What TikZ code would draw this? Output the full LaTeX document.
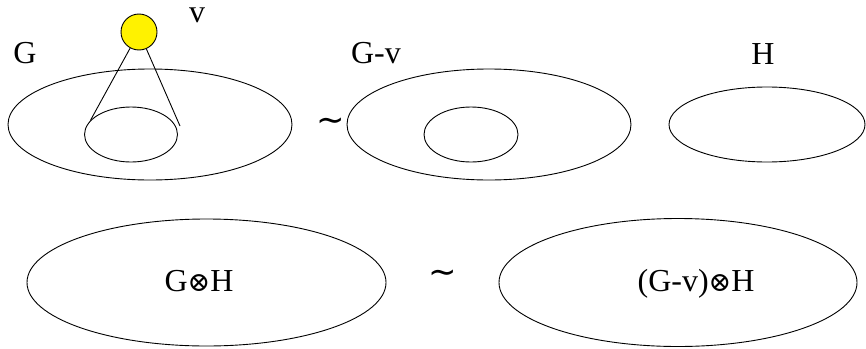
\documentclass[tikz,border=0pt]{standalone}
\usepackage{fontspec}
\setmainfont{Liberation Serif}
\newfontfamily\tnr{Liberation Serif}
\newfontfamily\dvs{DejaVu Sans}
\newfontfamily\dvserif{DejaVu Serif}
\usetikzlibrary{shapes.geometric}
\newcommand{\otim}{{\dvserif\fontsize{27}{30}\selectfont ⊗}}
\tikzset{
  set/.style={draw, ellipse, line width=0.9pt, inner sep=0pt},
  lbl/.style={anchor=base, inner sep=0pt, font=\tnr\fontsize{32}{36}\selectfont},
  tld/.style={inner sep=0pt, font=\dvs\fontsize{34}{38}\selectfont},
  vert/.style={draw, circle, fill=yellow, line width=0.9pt, minimum size=36pt, inner sep=0pt},
  edge/.style={line width=0.9pt}
}
\begin{document}
\begin{tikzpicture}[x=1pt, y=-1pt]
\useasboundingbox (0,0) rectangle (866,348);
% top row
\node[set, minimum width=284pt, minimum height=111pt] (G) at (150,124.5) {};
\node[set, minimum width=93pt, minimum height=55pt] (Gin) at (131,134.5) {};
\node[vert] (v) at (139,32) {};
\coordinate (cone) at (180,126);
\draw[edge] (v) -- (Gin.161);
\draw[edge] (v) -- (cone);
\node[lbl] (Glbl) at (25,63) {G};
\node[lbl, text height=15pt] (vlbl) at (197,22) {v};
\node[tld] (t1) at (331,125) {∼};
\node[set, minimum width=284pt, minimum height=111pt] (Gv) at (489,124.5) {};
\node[set, minimum width=94pt, minimum height=55pt] (Gvin) at (471,134.5) {};
\node[lbl] (Gvlbl) at (376,63) {G-v};
\node[set, minimum width=196pt, minimum height=75pt] (H) at (767,124.5) {};
\node[lbl] (Hlbl) at (763,64) {H};
% bottom row
\node[set, minimum width=359pt, minimum height=127pt] (GH) at (206.5,282.5) {};
\node[lbl] (GHlbl) at (199,291) {G\otim H};
\node[tld] (t2) at (443,277) {∼};
\node[set, minimum width=358pt, minimum height=128pt] (GvH) at (678,282.5) {};
\node[lbl] (GvHlbl) at (696,291) {(G-v)\otim H};
\end{tikzpicture}
\end{document}
